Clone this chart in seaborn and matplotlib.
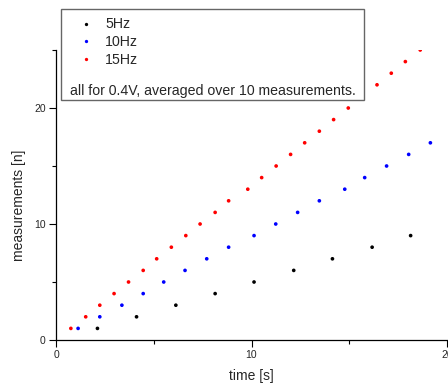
import numpy as np
import pandas as pd
import matplotlib
matplotlib.use("Agg")
import matplotlib.pyplot as plt
from matplotlib.patches import Rectangle
import seaborn as sns

sns.set_style("ticks")
plt.rcParams['font.family'] = ['Liberation Sans', 'DejaVu Sans']

# data
t_5 = [2.12, 4.12, 6.13, 8.14, 10.13, 12.16, 14.14, 16.17, 18.14]
n_5 = [1, 2, 3, 4, 5, 6, 7, 8, 9]
t_10 = [1.13, 2.24, 3.37, 4.46, 5.51, 6.60, 7.71, 8.83, 10.13, 11.24, 12.36,
        13.47, 14.77, 15.79, 16.91, 18.04, 19.15]
n_10 = list(range(1, 18))
t_15 = [0.76, 1.52, 2.24, 2.97, 3.71, 4.46, 5.15, 5.90, 6.64, 7.37, 8.14, 8.83,
        9.81, 10.52, 11.26, 12.00, 12.72, 13.47, 14.20, 14.95, 15.70, 16.42,
        17.15, 17.87, 18.63]
n_15 = list(range(1, 26))
series = ["5Hz", "10Hz", "15Hz"]
colors = ["black", "blue", "red"]
note = "all for 0.4V, averaged over 10 measurements."

df = pd.concat([
    pd.DataFrame({"time": t_5, "n": n_5, "f": series[0]}),
    pd.DataFrame({"time": t_10, "n": n_10, "f": series[1]}),
    pd.DataFrame({"time": t_15, "n": n_15, "f": series[2]}),
])

W, H = 448, 388
fig = plt.figure(figsize=(W / 100, H / 100), dpi=100)
ax = fig.add_axes([56 / W, (H - 340) / H, (447 - 56) / W, 290 / H])

sns.scatterplot(data=df, x="time", y="n", hue="f", palette=dict(zip(series, colors)),
                marker="o", s=7, linewidth=0, ax=ax, legend=True)
handles, labels = ax.get_legend_handles_labels()
ax.get_legend().remove()

ax.set_xlim(0, 20)
ax.set_ylim(0, 25)
ax.set_xticks([0, 10, 20])
ax.set_yticks([0, 10, 20])
ax.set_xticks([5, 15], minor=True)
ax.set_yticks([5, 15, 25], minor=True)
ax.tick_params(which="major", length=4.8, width=0.8, labelsize=7.5, pad=2.5, color="black")
ax.tick_params(which="minor", length=2.8, width=0.8, color="black")
for s in ["top", "right"]:
    ax.spines[s].set_visible(False)
for s in ["left", "bottom"]:
    ax.spines[s].set_linewidth(0.9)
    ax.spines[s].set_color("black")
ax.set_xlabel("time [s]", fontsize=10)
ax.set_ylabel("measurements [n]", fontsize=10)
ax.xaxis.set_label_coords(0.5, -(369 - 340) / 290)
ax.yaxis.set_label_coords((26 - 56) / 391, (340 - 205) / 290)

# legend box
rect = Rectangle((61 / W, 1 - 100 / H), (364 - 61) / W, (100 - 9) / H,
                 transform=fig.transFigure, facecolor="white", edgecolor="#666666",
                 linewidth=1.0, zorder=10)
fig.add_artist(rect)
leg = fig.legend(handles, labels, loc="upper left",
                 bbox_to_anchor=(79.5 / W, 1 - 17.5 / H), frameon=False,
                 fontsize=10.2, handlelength=0.95, handletextpad=0.85,
                 labelspacing=0.26, borderpad=0, borderaxespad=0, markerscale=0.9)
leg.set_zorder(11)
fig.text(70 / W, 1 - 91 / H, note, fontsize=10.2, va="center", ha="left", zorder=12)

fig.savefig("out.png", dpi=100)
